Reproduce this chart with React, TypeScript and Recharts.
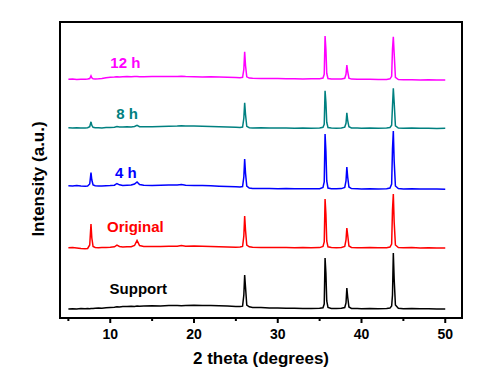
import React from 'react';
import { LineChart, Line, XAxis, YAxis, ReferenceArea, ReferenceDot } from 'recharts';

const twoTheta = [
  5, 5.5, 6, 6.5, 7, 7.3, 7.55, 7.7, 7.8, 7.95,
  8.2, 8.6, 9, 9.5, 10, 10.5, 10.8, 11.1, 11.5, 12,
  12.5, 12.9, 13.2, 13.5, 14, 15, 16, 17, 18, 18.5,
  19, 20, 21, 22, 23, 24, 25, 25.5, 25.8, 25.95,
  26.05, 26.15, 26.3, 26.6, 27, 28, 29, 30, 31, 32,
  33, 34, 35, 35.4, 35.55, 35.65, 35.75, 35.85, 36.0, 36.4,
  37, 37.6, 38.0, 38.15, 38.25, 38.35, 38.5, 38.8, 39.5, 40,
  41, 42, 43, 43.4, 43.6, 43.7, 43.8, 43.9, 44.05, 44.4,
  45, 46, 47, 48, 49, 50,
];

const support = [
  0, 0.3, 0, 0.4, 0.2, 0.5, 0.3, 0.6, 0.4, 0.5,
  0.8, 1.0, 0.7, 1.2, 1.5, 1.8, 2.2, 2.0, 2.4, 2.6,
  2.8, 2.6, 3.0, 2.8, 3.1, 3.3, 3.0, 3.4, 3.6, 3.3,
  3.5, 3.8, 3.6, 3.4, 3.2, 2.9, 2.6, 2.5, 2.8, 14,
  34, 22, 4, 2.2, 1.6, 1.4, 1.0, 0.9, 0.7, 0.8,
  0.5, 0.6, 0.7, 1.2, 5, 51, 36, 8, 1.5, 0.6,
  0.5, 0.7, 1.5, 6, 21, 12, 2, 0.6, 0.4, 0.3,
  0.5, 0.3, 0.4, 0.9, 3, 14, 56, 30, 4, 0.8,
  0.3, 0.4, 0.2, 0.3, 0.1, 0,
];

const original = [
  0.2, 0.4, 0, -0.6, -0.8, -0.5, 3, 24, 10, 1.5,
  0.5, 0.3, 0.4, 0.6, 0.8, 1.2, 2.8, 1.5, 1.0, 1.2,
  1.3, 2.5, 7.5, 2.5, 1.5, 1.4, 1.6, 1.7, 1.8, 2.6,
  1.8, 1.9, 1.7, 1.5, 1.2, 1.0, 0.8, 0.9, 1.5, 12,
  32, 18, 3, 1.2, 0.8, 0.6, 0.5, 0.4, 0.6, 0.3,
  0.4, 0.2, 0.4, 1.5, 6, 49, 34, 7, 1.2, 0.4,
  0.3, 0.5, 1.5, 8, 20, 13, 2, 0.5, 0.3, 0.2,
  0.4, 0.2, 0.3, 1.0, 4, 38, 54, 26, 3, 0.5,
  0.2, 0.4, 0.1, 0.2, 0, 0,
];

const h4 = [
  3.2, 3.0, 3.4, 3.0, 2.8, 3.0, 5, 16.5, 9, 4,
  3.2, 3.0, 3.1, 3.3, 3.5, 3.8, 5.5, 4.2, 3.6, 3.8,
  4.0, 5.0, 7.0, 4.5, 3.8, 3.6, 3.7, 3.9, 4.0, 4.5,
  3.8, 3.6, 3.4, 3.2, 2.8, 2.5, 2.2, 2.0, 2.5, 12,
  30, 16, 3, 1.0, 0.6, 0.5, 0.4, 0.3, 0.5, 0.2,
  0.3, 0.2, 0.3, 1.5, 7, 55, 38, 8, 1.0, 0.3,
  0.2, 0.4, 1.5, 8, 22, 12, 2, 0.4, 0.2, 0.1,
  0.3, 0.1, 0.2, 1.0, 5, 40, 58, 28, 3, 0.4,
  0.1, 0.3, 0, 0.1, -0.1, -0.2,
];

const h8 = [
  0.5, 0.3, 0.6, 0.4, 0.2, 0.5, 1.5, 6.5, 3, 1,
  0.5, 0.6, 0.4, 0.7, 0.9, 1.0, 1.8, 1.2, 1.3, 1.5,
  1.4, 1.8, 3.0, 1.6, 1.5, 1.6, 1.8, 2.0, 2.2, 2.5,
  2.2, 2.3, 2.0, 1.8, 1.6, 1.3, 1.0, 0.9, 1.2, 10,
  25.5, 14, 2, 0.6, 0.4, 0.5, 0.3, 0.2, 0.4, 0.1,
  0.2, 0.1, 0.3, 1.0, 4, 37.5, 26, 6, 0.8, 0.2,
  0.1, 0.3, 1.2, 5, 15.5, 8, 1.5, 0.3, 0.2, 0,
  0.2, 0.1, 0.2, 0.8, 3, 22, 40, 26, 2.5, 0.3,
  0.1, 0.2, 0, 0.1, -0.1, 0,
];

const h12 = [
  0, 0.2, -0.1, 0.1, 0, 0.3, 0.8, 3.5, 1.5, 0.5,
  0.3, 0.5, 0.8, 1.5, 2.0, 2.2, 2.6, 2.3, 2.5, 2.7,
  2.6, 2.8, 2.7, 2.5, 2.6, 2.8, 2.9, 2.7, 2.8, 3.0,
  2.7, 2.6, 2.4, 2.5, 2.2, 2.0, 1.8, 1.6, 2.0, 10,
  27.6, 14, 2.5, 1.2, 1.0, 0.9, 0.7, 0.8, 0.6, 0.5,
  0.4, 0.5, 0.6, 1.2, 5, 43.3, 30, 6, 0.8, 0.3,
  0.2, 0.3, 1.0, 5, 14.3, 8, 1.2, 0.2, 0.1, 0,
  0, -0.2, -0.1, 0.5, 3, 30, 42.6, 26, 2, -0.3,
  -0.4, -0.5, -0.6, -0.5, -0.7, -0.7,
];

const seriesNames = ['Support', 'Original', '4 h', '8 h', '12 h'];
const seriesColors = ['#000000', '#ff0000', '#0000ff', '#008080', '#ff00ff'];
const seriesOffsets = [9, 70, 129, 189.7, 238.7];
const labelTheta = [13.35, 13.0, 11.85, 12.0, 11.8];
const labelLevel = [24, 86, 140.3, 199, 249.7];

const xTicks = [5, 10, 15, 20, 25, 30, 35, 40, 45, 50];
const seriesValues = [support, original, h4, h8, h12];
const keys = ['s0', 's1', 's2', 's3', 's4'];

const rows = twoTheta.map((t, i) => {
  const r: any = { theta: t };
  seriesValues.forEach((vals, k) => {
    r[keys[k]] = vals[i] + seriesOffsets[k];
  });
  return r;
});

const FONT = '"Liberation Sans", Arial, sans-serif';

const Tick = (props: any) => {
  const { x, y, payload } = props;
  const major = payload.value % 10 === 0;
  return (
    <g>
      <line x1={x} x2={x} y1={y} y2={y + (major ? 5 : 3)} stroke="#000" strokeWidth={2} />
      {major && (
        <text x={x} y={y + 21} textAnchor="middle" fontFamily={FONT} fontWeight="bold" fontSize={14} fill="#000">
          {payload.value}
        </text>
      )}
    </g>
  );
};

const XTitle = (props: any) => {
  const vb = props.viewBox;
  return (
    <text x={vb.x + vb.width / 2} y={vb.y + 46} textAnchor="middle" fontFamily={FONT} fontWeight="bold" fontSize={17} fill="#000">
      2 theta (degrees)
    </text>
  );
};

const YTitle = (props: any) => {
  const vb = props.viewBox;
  const cx = vb.x + 36;
  const cy = vb.y + vb.height / 2 + 9;
  return (
    <text x={cx} y={cy} transform={`rotate(-90, ${cx}, ${cy})`} textAnchor="middle" fontFamily={FONT} fontWeight="bold" fontSize={17} fill="#000">
      Intensity (a.u.)
    </text>
  );
};

const makeSeriesLabel = (text: string, color: string) => (props: any) => {
  const vb = props.viewBox;
  return (
    <text x={vb.x + vb.width / 2} y={vb.y + vb.height / 2} textAnchor="middle" fontFamily={FONT} fontWeight="bold" fontSize={15} fill={color}>
      {text}
    </text>
  );
};

export default function App() {
  return (
    <div style={{ position: 'absolute', left: 0, top: 0, width: 504, height: 374, background: '#fff' }}>
      <LineChart width={504} height={374} data={rows} margin={{ top: 22, right: 42, bottom: 0, left: 8 }}>
        <XAxis
          dataKey="theta"
          type="number"
          domain={[4, 52]}
          ticks={xTicks}
          allowDataOverflow
          axisLine={false}
          tickLine={false}
          tickSize={0}
          tickMargin={0}
          tick={<Tick />}
          height={56}
          interval={0}
          label={{ content: <XTitle /> }}
        />
        <YAxis
          type="number"
          domain={[0, 296]}
          allowDataOverflow
          width={52}
          tick={false}
          tickLine={false}
          axisLine={false}
          label={{ content: <YTitle /> }}
        />
        <ReferenceArea x1={4} x2={52} y1={0} y2={296} fill="none" stroke="#000" strokeWidth={2} />
        {keys.map((k, i) => (
          <Line
            key={k}
            dataKey={k}
            type="linear"
            stroke={seriesColors[i]}
            strokeWidth={1.5}
            dot={false}
            isAnimationActive={false}
          />
        ))}
        {seriesNames.map((n, i) => (
          <ReferenceDot
            key={n}
            x={labelTheta[i]}
            y={labelLevel[i]}
            r={0}
            fill="none"
            stroke="none"
            label={{ content: makeSeriesLabel(n, seriesColors[i]) }}
          />
        ))}
      </LineChart>
    </div>
  );
}
